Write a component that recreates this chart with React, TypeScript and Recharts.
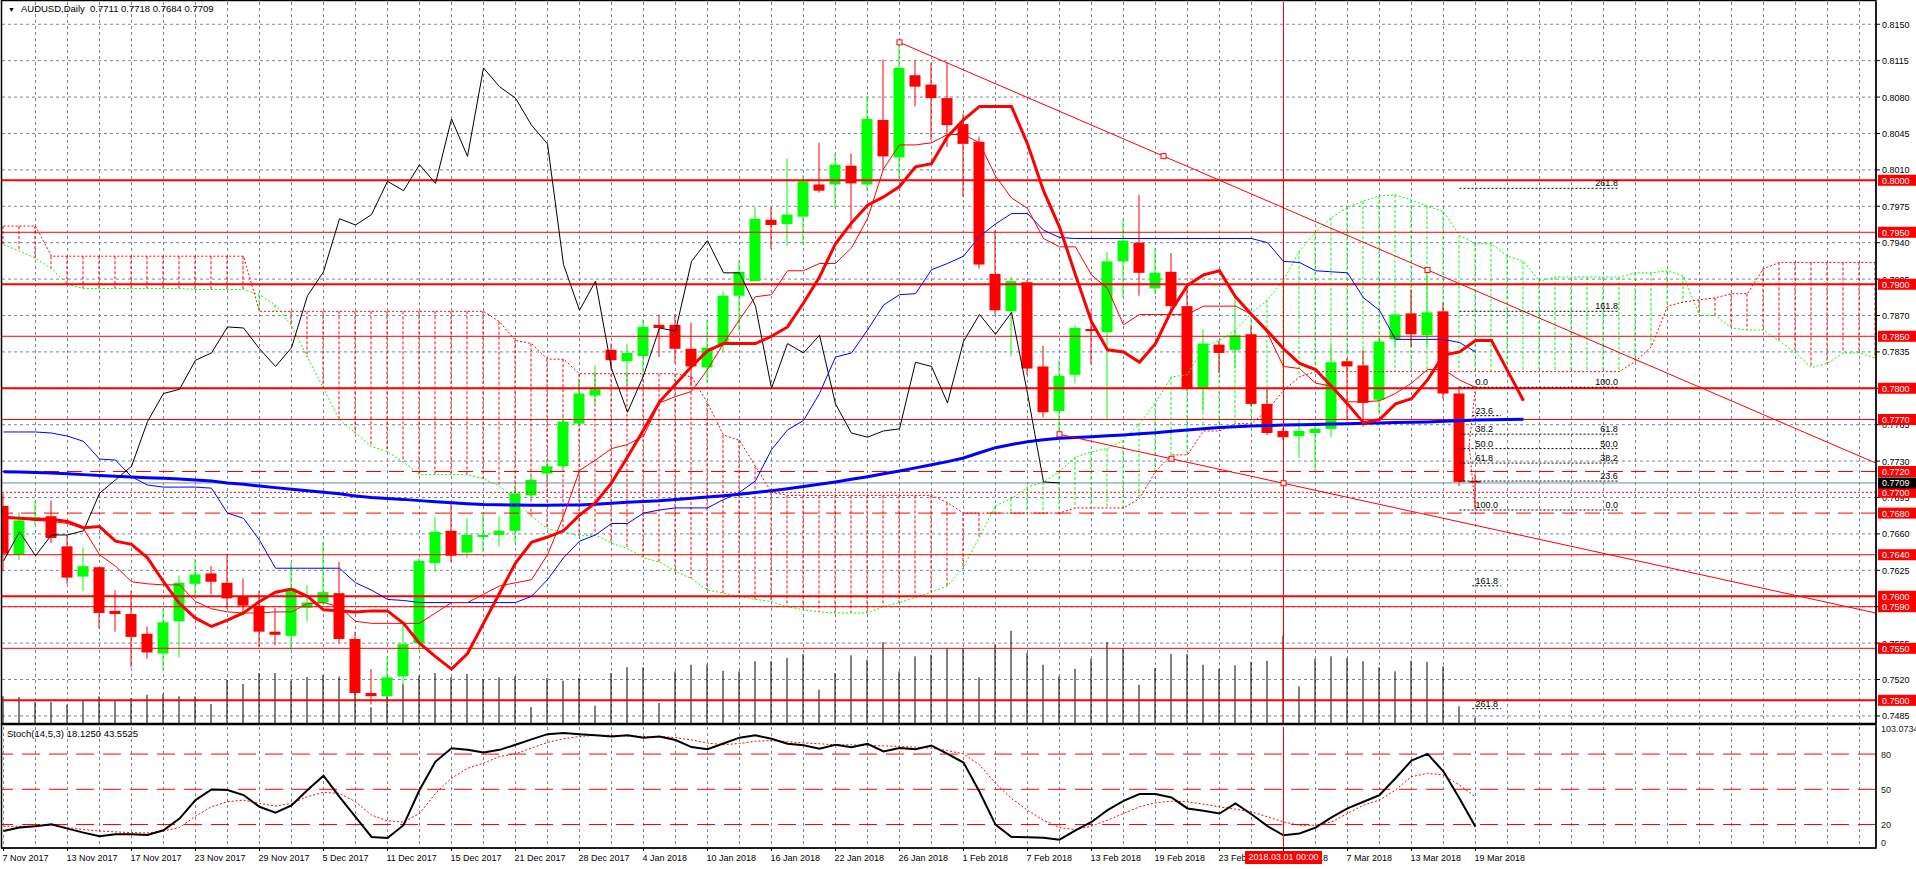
import React from 'react';
import {
  ComposedChart,
  Bar,
  Line,
  XAxis,
  YAxis,
  CartesianGrid,
  ReferenceLine,
  ReferenceDot
} from 'recharts';

const FONT = '"Liberation Sans", Arial, sans-serif';
const RED = '#ff0000';
const LIME = '#00ff00';
const GRID = '#778899';

// ---- data (bar index 0 = 7 Nov 2017, 92 = 19 Mar 2018) ----
const opens = [
  0.7687, 0.7640, 0.7674, 0.7677, 0.7648, 0.7619, 0.7628, 0.7586, 0.7583, 0.7564,
  0.7545, 0.7576, 0.7612, 0.7622, 0.7613, 0.7600, 0.7591, 0.7566, 0.7562, 0.7589,
  0.7594, 0.7603, 0.7559, 0.7507, 0.7504, 0.7523, 0.7555, 0.7632, 0.7663, 0.7642,
  0.7657, 0.7659, 0.7663, 0.7697, 0.7718, 0.7725, 0.7766, 0.7793, 0.7837, 0.7826,
  0.7831, 0.7861, 0.7861, 0.7838, 0.7820, 0.7842, 0.7889, 0.7903, 0.7962, 0.7958,
  0.7965, 0.7996, 0.7996, 0.8014, 0.7996, 0.8058, 0.8022, 0.8101, 0.8092, 0.8079,
  0.8054, 0.8037, 0.7910, 0.7874, 0.7902, 0.7821, 0.7778, 0.7813, 0.7857, 0.7854,
  0.7922, 0.7940, 0.7896, 0.7912, 0.7879, 0.7800, 0.7842, 0.7837, 0.7852, 0.7785,
  0.7759, 0.7754, 0.7757, 0.7761, 0.7826, 0.7822, 0.7789, 0.7847, 0.7872, 0.7851,
  0.7874, 0.7795, 0.7711
];
const highs = [
  0.7699, 0.7681, 0.7692, 0.7692, 0.7659, 0.7647, 0.7628, 0.7606, 0.7605, 0.7571,
  0.7588, 0.7620, 0.7636, 0.7629, 0.7641, 0.7617, 0.7605, 0.7589, 0.7632, 0.7611,
  0.7652, 0.7633, 0.7566, 0.7530, 0.7542, 0.7577, 0.7637, 0.7676, 0.7690, 0.7675,
  0.7680, 0.7677, 0.7705, 0.7716, 0.7731, 0.7774, 0.7808, 0.7822, 0.7843, 0.7843,
  0.7866, 0.7871, 0.7871, 0.7863, 0.7866, 0.7893, 0.7923, 0.7974, 0.7974, 0.8021,
  0.8005, 0.8036, 0.8026, 0.8026, 0.8081, 0.8116, 0.8133, 0.8115, 0.8113, 0.8113,
  0.8064, 0.8042, 0.7952, 0.7907, 0.7904, 0.7841, 0.7827, 0.7861, 0.7874, 0.7931,
  0.7963, 0.7986, 0.7935, 0.7930, 0.7899, 0.7857, 0.7845, 0.7888, 0.7860, 0.7800,
  0.7762, 0.7771, 0.7766, 0.7842, 0.7829, 0.7837, 0.7848, 0.7872, 0.7895, 0.7914,
  0.7882, 0.7802, 0.7718
];
const lows = [
  0.7624, 0.7635, 0.7668, 0.7651, 0.7612, 0.7605, 0.7569, 0.7566, 0.7532, 0.7540,
  0.7529, 0.7541, 0.7600, 0.7602, 0.7588, 0.7582, 0.7551, 0.7553, 0.7548, 0.7576,
  0.7592, 0.7555, 0.7505, 0.7496, 0.7503, 0.7515, 0.7548, 0.7624, 0.7633, 0.7637,
  0.7642, 0.7648, 0.7651, 0.7695, 0.7712, 0.7722, 0.7764, 0.7785, 0.7818, 0.7803,
  0.7815, 0.7830, 0.7824, 0.7802, 0.7805, 0.7835, 0.7855, 0.7903, 0.7934, 0.7937,
  0.7938, 0.7988, 0.7974, 0.7953, 0.7990, 0.8010, 0.8002, 0.8071, 0.8039, 0.8032,
  0.7984, 0.7915, 0.7871, 0.7831, 0.7813, 0.7772, 0.7756, 0.7805, 0.7823, 0.7770,
  0.7887, 0.7889, 0.7890, 0.7875, 0.7798, 0.7778, 0.7815, 0.7820, 0.7783, 0.7755,
  0.7750, 0.7733, 0.7720, 0.7753, 0.7769, 0.7763, 0.7775, 0.7840, 0.7840, 0.7840,
  0.7790, 0.7706, 0.7684
];
const closes = [
  0.7641, 0.7673, 0.7676, 0.7656, 0.7618, 0.7629, 0.7584, 0.7583, 0.7561, 0.7546,
  0.7575, 0.7613, 0.7621, 0.7614, 0.7598, 0.7591, 0.7566, 0.7563, 0.7607, 0.7594,
  0.7604, 0.7559, 0.7507, 0.7504, 0.7522, 0.7554, 0.7634, 0.7662, 0.7639, 0.7659,
  0.7659, 0.7663, 0.7699, 0.7712, 0.7725, 0.7768, 0.7795, 0.7799, 0.7827, 0.7834,
  0.7859, 0.7858, 0.7838, 0.7821, 0.7839, 0.7889, 0.7912, 0.7963, 0.7957, 0.7967,
  0.7999, 0.7990, 0.8015, 0.7997, 0.8059, 0.8023, 0.8108, 0.8090, 0.8079, 0.8053,
  0.8035, 0.7919, 0.7875, 0.7903, 0.7819, 0.7777, 0.7812, 0.7858, 0.7855, 0.7922,
  0.7942, 0.7911, 0.7911, 0.7879, 0.7800, 0.7843, 0.7834, 0.7851, 0.7785, 0.7757,
  0.7753, 0.7759, 0.7761, 0.7825, 0.7821, 0.7786, 0.7845, 0.7871, 0.7852, 0.7873,
  0.7795, 0.7710, 0.7709
];
const volumes = [
  53400, 52000, 42000, 42000, 36600, 43400, 53400, 43400, 50000, 56600,
  58000, 53400, 53400, 38000, 86000, 78000, 100000, 100000, 84600, 92000,
  96000, 93000, 96000, 31400, 73000, 77400, 94600, 100000, 92000, 98000,
  88000, 91400, 93400, 32000, 90000, 84600, 90000, 34600, 100000, 111400,
  111400, 40000, 103400, 116600, 116600, 104600, 103400, 123400, 123400, 130000,
  138000, 66600, 100000, 135400, 126600, 162000, 103400, 133400, 136600, 150000,
  150000, 91400, 156600, 184600, 140000, 116600, 93400, 108600, 128600, 162000,
  150000, 76600, 110000, 138000, 138000, 116600, 108600, 115400, 122000, 124600,
  175400, 73400, 128600, 133400, 130000, 123400, 111400, 103400, 124600, 122000,
  113400, 33400, 10000
];
// lagging span (black)
const chikou = [
  0.7634, 0.7662, 0.7639, 0.7659, 0.7659, 0.7663, 0.7699, 0.7712, 0.7725, 0.7768,
  0.7795, 0.7799, 0.7827, 0.7834, 0.7859, 0.7858, 0.7838, 0.7821, 0.7839, 0.7889,
  0.7912, 0.7963, 0.7957, 0.7967, 0.7999, 0.7990, 0.8015, 0.7997, 0.8059, 0.8023,
  0.8108, 0.8090, 0.8079, 0.8053, 0.8035, 0.7919, 0.7875, 0.7903, 0.7819, 0.7777,
  0.7812, 0.7858, 0.7855, 0.7922, 0.7942, 0.7911, 0.7911, 0.7879, 0.7800, 0.7843,
  0.7834, 0.7851, 0.7785, 0.7757, 0.7753, 0.7759, 0.7761, 0.7825, 0.7821, 0.7786,
  0.7845, 0.7871, 0.7852, 0.7873, 0.7795, 0.7710, 0.7709
];
// conversion line (thin red)
const tenkan = [
  0.7676, 0.7675, 0.7673, 0.7672, 0.7670, 0.7665, 0.7640, 0.7629, 0.7614, 0.7612,
  0.7611, 0.7611, 0.7595, 0.7588, 0.7585, 0.7584, 0.7584, 0.7585, 0.7585, 0.7593,
  0.7594, 0.7590, 0.7576, 0.7574, 0.7574, 0.7574, 0.7574, 0.7584, 0.7594, 0.7594,
  0.7602, 0.7610, 0.7613, 0.7616, 0.7640, 0.7677, 0.7721, 0.7731, 0.7742, 0.7746,
  0.7754, 0.7786, 0.7792, 0.7797, 0.7818, 0.7843, 0.7866, 0.7888, 0.7890, 0.7913,
  0.7913, 0.7920, 0.7920, 0.7935, 0.7963, 0.8011, 0.8034, 0.8034, 0.8036, 0.8044,
  0.8044, 0.8036, 0.8004, 0.7983, 0.7973, 0.7944, 0.7936, 0.7936, 0.7909, 0.7896,
  0.7861, 0.7871, 0.7871, 0.7871, 0.7871, 0.7879, 0.7879, 0.7879, 0.7871, 0.7853,
  0.7821, 0.7819, 0.7805, 0.7802, 0.7787, 0.7787, 0.7788, 0.7795, 0.7805, 0.7818,
  0.7818, 0.7808, 0.7801
];
// base line (thin blue)
const kijun = [
  0.7758, 0.7758, 0.7758, 0.7757, 0.7754, 0.7749, 0.7732, 0.7731, 0.7715, 0.7707,
  0.7705, 0.7705, 0.7705, 0.7704, 0.7680, 0.7675, 0.7654, 0.7627, 0.7627, 0.7627,
  0.7627, 0.7627, 0.7613, 0.7606, 0.7597, 0.7596, 0.7594, 0.7594, 0.7594, 0.7594,
  0.7594, 0.7594, 0.7594, 0.7600, 0.7616, 0.7637, 0.7653, 0.7659, 0.7670, 0.7670,
  0.7680, 0.7683, 0.7685, 0.7685, 0.7685, 0.7693, 0.7700, 0.7711, 0.7741, 0.7760,
  0.7769, 0.7795, 0.7830, 0.7834, 0.7856, 0.7880, 0.7890, 0.7891, 0.7914, 0.7920,
  0.7927, 0.7946, 0.7958, 0.7968, 0.7968, 0.7952, 0.7945, 0.7944, 0.7944, 0.7944,
  0.7944, 0.7944, 0.7944, 0.7944, 0.7944, 0.7944, 0.7944, 0.7944, 0.7944, 0.7940,
  0.7922, 0.7921, 0.7913, 0.7912, 0.7911, 0.7887, 0.7875, 0.7847, 0.7847, 0.7847,
  0.7847, 0.7844, 0.7835
];
// shifted moving averages (thick red / thick blue)
const maRed = [
  0.7676, 0.7675, 0.7674, 0.7674, 0.7672, 0.7666, 0.7667, 0.7653, 0.7650, 0.7637,
  0.7614, 0.7593, 0.7579, 0.7571, 0.7577, 0.7584, 0.7595, 0.7604, 0.7607, 0.7600,
  0.7587, 0.7586, 0.7585, 0.7586, 0.7586, 0.7574, 0.7555, 0.7542, 0.7530, 0.7545,
  0.7574, 0.7603, 0.7632, 0.7652, 0.7657, 0.7663, 0.7678, 0.7690, 0.7709, 0.7734,
  0.7760, 0.7787, 0.7804, 0.7821, 0.7836, 0.7843, 0.7843, 0.7843, 0.7850, 0.7859,
  0.7882, 0.7907, 0.7939, 0.7959, 0.7976, 0.7984, 0.7994, 0.8013, 0.8016, 0.8042,
  0.8058, 0.8071, 0.8071, 0.8071, 0.8035, 0.7990, 0.7955, 0.7909, 0.7864, 0.7837,
  0.7835, 0.7825, 0.7843, 0.7875, 0.7899, 0.7909, 0.7913, 0.7888, 0.7871, 0.7855,
  0.7838, 0.7824, 0.7818, 0.7802, 0.7785, 0.7767, 0.7770, 0.7785, 0.7790, 0.7808,
  0.7832, 0.7835, 0.7846, 0.7846, 0.7817, 0.7788
];
const maBlue = [
  0.77198, 0.77195, 0.77190, 0.77185, 0.77178, 0.77170, 0.77162, 0.77155, 0.77148, 0.77140,
  0.77135, 0.77128, 0.77118, 0.77108, 0.77090, 0.77078, 0.77060, 0.77045, 0.77030, 0.77015,
  0.77000, 0.76985, 0.76965, 0.76950, 0.76940, 0.76932, 0.76920, 0.76910, 0.76900, 0.76890,
  0.76882, 0.76880, 0.76878, 0.76876, 0.76876, 0.76877, 0.76878, 0.76885, 0.76895, 0.76905,
  0.76912, 0.76918, 0.76930, 0.76942, 0.76955, 0.76968, 0.76982, 0.76998, 0.77015, 0.77035,
  0.77055, 0.77078, 0.77100, 0.77125, 0.77150, 0.77178, 0.77205, 0.77235, 0.77265, 0.77295,
  0.77330, 0.77380, 0.77429, 0.77460, 0.77487, 0.77505, 0.77519, 0.77528, 0.77535, 0.77543,
  0.77551, 0.77562, 0.77573, 0.77586, 0.77599, 0.77612, 0.77624, 0.77631, 0.77637, 0.77642,
  0.77647, 0.77650, 0.77653, 0.77656, 0.77660, 0.77663, 0.77666, 0.77670, 0.77673, 0.77676,
  0.77682, 0.77688, 0.77695, 0.77698, 0.77700, 0.77702
];
// cloud spans (A green dotted, B red dotted), already shifted forward
const spanA = [
  0.7938, 0.7932, 0.7925, 0.7915, 0.7900, 0.7896, 0.7896, 0.7896, 0.7896, 0.7896,
  0.7896, 0.7896, 0.7895, 0.7895, 0.7895, 0.7895, 0.7890, 0.7880, 0.7860, 0.7830,
  0.7800, 0.7770, 0.7757, 0.7744, 0.7739, 0.7729, 0.7717, 0.7717, 0.7717, 0.7717,
  0.7713, 0.7706, 0.7693, 0.7677, 0.7665, 0.7662, 0.7658, 0.7659, 0.7651, 0.7646,
  0.7637, 0.7633, 0.7624, 0.7617, 0.7606, 0.7603, 0.7600, 0.7597, 0.7595, 0.7590,
  0.7587, 0.7585, 0.7584, 0.7584, 0.7584, 0.7590, 0.7594, 0.7599, 0.7604, 0.7610,
  0.7628, 0.7657, 0.7687, 0.7694, 0.7705, 0.7710, 0.7720, 0.7734, 0.7739, 0.7742,
  0.7750, 0.7766, 0.7786, 0.7811, 0.7813, 0.7840, 0.7846, 0.7856, 0.7872, 0.7885,
  0.7904, 0.7932, 0.7950, 0.7964, 0.7974, 0.7980, 0.7985, 0.7986, 0.7981, 0.7975,
  0.7970, 0.7947, 0.7939, 0.7939, 0.7927, 0.7922, 0.7903, 0.7907, 0.7907, 0.7907,
  0.7907, 0.7907, 0.7911, 0.7911, 0.7913, 0.7908, 0.7870, 0.7870, 0.7858, 0.7856,
  0.7856, 0.7845, 0.7834, 0.7820, 0.7824, 0.7834, 0.7834, 0.7829
];
const spanB = [
  0.7956, 0.7956, 0.7956, 0.7927, 0.7927, 0.7927, 0.7927, 0.7927, 0.7927, 0.7927,
  0.7927, 0.7927, 0.7927, 0.7927, 0.7927, 0.7927, 0.7874, 0.7874, 0.7874, 0.7874,
  0.7874, 0.7874, 0.7874, 0.7874, 0.7874, 0.7874, 0.7874, 0.7874, 0.7874, 0.7874,
  0.7874, 0.7864, 0.7846, 0.7843, 0.7828, 0.7828, 0.7814, 0.7814, 0.7814, 0.7814,
  0.7814, 0.7814, 0.7814, 0.7811, 0.7786, 0.7755, 0.7750, 0.7725, 0.7700, 0.7697,
  0.7697, 0.7697, 0.7697, 0.7697, 0.7697, 0.7697, 0.7697, 0.7697, 0.7697, 0.7690,
  0.7680, 0.7680, 0.7680, 0.7680, 0.7680, 0.7680, 0.7680, 0.7685, 0.7685, 0.7685,
  0.7685, 0.7694, 0.7720, 0.7736, 0.7736, 0.7759, 0.7759, 0.7766, 0.7766, 0.7779,
  0.7798, 0.7811, 0.7816, 0.7816, 0.7816, 0.7816, 0.7816, 0.7816, 0.7816, 0.7816,
  0.7816, 0.7816, 0.7816, 0.7816, 0.7816, 0.7816, 0.7816, 0.7816, 0.7816, 0.7816,
  0.7816, 0.7816, 0.7826, 0.7840, 0.7879, 0.7883, 0.7885, 0.7887, 0.7891, 0.7891,
  0.7915, 0.7921, 0.7921, 0.7921, 0.7921, 0.7921, 0.7921, 0.7921
];
// Stochastic (14,5,3)
const stochK = [
  14.5, 17.4, 18.5, 20.2, 16.5, 13.1, 10.0, 11.7, 11.7, 11.1,
  15.1, 25.1, 40.8, 49.9, 49.4, 45.1, 35.1, 30.0, 36.3, 49.4,
  61.6, 43.6, 26.5, 9.4, 8.5, 19.4, 49.4, 73.6, 85.0, 83.6,
  81.3, 83.6, 87.9, 92.5, 97.0, 98.0, 97.0, 96.0, 95.0, 96.0,
  94.0, 95.0, 92.0, 86.0, 84.2, 89.0, 94.0, 96.0, 93.0, 88.8,
  87.6, 84.5, 87.9, 85.9, 88.8, 82.2, 85.1, 84.2, 87.3, 80.2,
  72.8, 47.9, 19.9, 9.4, 9.1, 8.8, 7.1, 15.1, 22.2, 32.2,
  40.2, 45.9, 45.9, 43.1, 33.7, 31.7, 29.4, 38.0, 28.8, 18.6,
  10.8, 12.3, 17.4, 26.0, 33.7, 39.4, 45.1, 59.4, 74.5, 80.2,
  65.1, 42.2, 18.1
];
const stochD = [
  18.5, 18.5, 18.8, 19.4, 17.4, 15.7, 14.5, 13.7, 13.1, 12.8,
  14.5, 17.4, 27.1, 35.1, 39.4, 40.8, 38.0, 35.7, 38.0, 43.7,
  47.4, 46.5, 39.4, 28.0, 23.1, 22.2, 29.4, 46.5, 59.4, 67.9,
  72.2, 77.9, 80.2, 85.1, 89.9, 93.0, 95.0, 96.0, 96.0, 95.5,
  95.0, 95.0, 94.0, 92.0, 89.4, 88.0, 89.0, 91.0, 91.5, 90.5,
  89.5, 88.8, 87.9, 87.9, 87.3, 87.0, 86.5, 85.9, 85.0, 83.0,
  80.2, 70.8, 55.1, 42.2, 32.2, 23.7, 17.4, 15.7, 18.6, 23.7,
  29.4, 35.1, 38.5, 39.9, 39.4, 37.4, 35.1, 33.1, 30.8, 26.6,
  22.2, 19.4, 19.4, 22.2, 29.4, 36.5, 40.8, 49.4, 60.8, 63.6,
  62.2, 53.6, 43.6
];

const dateTicks = [0, 4, 8, 12, 16, 20, 24, 28, 32, 36, 40, 44, 48, 52, 56, 60, 64, 68, 72, 76, 80, 84, 88, 92];
const dateLabels = [
  '7 Nov 2017', '13 Nov 2017', '17 Nov 2017', '23 Nov 2017', '29 Nov 2017', '5 Dec 2017',
  '11 Dec 2017', '15 Dec 2017', '21 Dec 2017', '28 Dec 2017', '4 Jan 2018', '10 Jan 2018',
  '16 Jan 2018', '22 Jan 2018', '26 Jan 2018', '1 Feb 2018', '7 Feb 2018', '13 Feb 2018',
  '19 Feb 2018', '23 Feb 2018', '1 Mar 2018', '7 Mar 2018', '13 Mar 2018', '19 Mar 2018'
];
const priceTicks = [
  0.8150, 0.8115, 0.8080, 0.8045, 0.8010, 0.7975, 0.7940, 0.7905, 0.7870, 0.7835,
  0.7800, 0.7765, 0.7730, 0.7695, 0.7660, 0.7625, 0.7590, 0.7555, 0.7520, 0.7485
];
// horizontal levels drawn on the chart
const thickLevels = [0.8000, 0.7900, 0.7800, 0.7600, 0.7500];
const thinLevels = [0.7950, 0.7850, 0.7770, 0.7640, 0.7590, 0.7550];
const dashLevels = [0.7720, 0.7680];
const dotLevels = [0.7700];
const bidPrice = 0.7709;
const levelTags = [0.8000, 0.7950, 0.7900, 0.7850, 0.7800, 0.7770, 0.7720, 0.7700, 0.7680, 0.7640, 0.7600, 0.7590, 0.7550, 0.7500];

// trend lines: start bar/price, second anchor and value at the right edge
const upperTrend = { i0: 56, p0: 0.81326, i1: 89, p1: 0.79138, pEnd: 0.7728 };
const lowerTrend = { i0: 66, p0: 0.77558, i1: 80, p1: 0.77087, pEnd: 0.75839 };

// fibonacci levels (price, left text, right text)
const fibLevels = [0.7801, 0.77559, 0.7742, 0.77281, 0.77108, 0.7683, 0.7874, 0.79923];
const fibLeftText = ['0.0', '38.2', '50.0', '61.8', '', '100.0', '', ''];
const fibRightText = ['100.0', '61.8', '50.0', '38.2', '23.6', '0.0', '161.8', '261.8'];
const fibShort = [0.77737, 0.76101, 0.7492];
const fibShortText = ['23.6', '161.8', '261.8'];
const fibSwing = { hi: 0.7801, lo: 0.7683 };

const stochTicks = [0, 20, 50, 80, 103.0734];
const stochLevels = [80, 50, 20];

const N = 118;
const rows = Array.from({ length: N }, (_, i) => ({
  i,
  o: opens[i], h: highs[i], l: lows[i], c: closes[i],
  vol: volumes[i],
  chi: chikou[i], ten: tenkan[i], kij: kijun[i],
  maR: maRed[i], maB: maBlue[i],
  sa: spanA[i], sb: spanB[i],
  k: stochK[i], d: stochD[i]
}));

const X_DOMAIN: [number, number] = [-0.09375, 117.03125];
const evenTicks = Array.from({ length: 59 }, (_, k) => k * 2);

const Candle = (props: any) => {
  const { x, y, width, height, payload } = props;
  if (payload.h === undefined || height == null) return null;
  const span = payload.h - payload.l || 1e-9;
  const k = height / span;
  const yo = y + (payload.h - payload.o) * k;
  const yc = y + (payload.h - payload.c) * k;
  const col = payload.c >= payload.o ? LIME : RED;
  const cx = x + width / 2;
  const top = Math.min(yo, yc);
  return (
    <g>
      <line x1={cx} x2={cx} y1={y} y2={y + height} stroke={col} strokeWidth={1} />
      <rect x={x} y={top} width={width} height={Math.max(1, Math.abs(yo - yc))} fill={col} />
    </g>
  );
};

const Hatch = (props: any) => {
  const { x, y, width, height, payload } = props;
  if (payload.sa === undefined || height == null) return null;
  const cx = x + width / 2;
  const col = payload.sb > payload.sa ? RED : LIME;
  return <line x1={cx} x2={cx} y1={y} y2={y + height} stroke={col} strokeWidth={1} strokeDasharray="3 2" />;
};

const VolumeStick = (props: any) => {
  const { x, y, width, height } = props;
  if (height == null || height <= 0) return null;
  const cx = x + width / 2;
  return <line x1={cx} x2={cx} y1={y} y2={y + height} stroke="#000" strokeWidth={1} />;
};

const PriceTick = (props: any) => {
  const { x, y, payload, index } = props;
  const v = payload.value;
  const txt = v.toFixed(4);
  const isPlain = index < priceTicks.length;
  if (!isPlain && v === bidPrice) {
    return (
      <g>
        <rect x={x - 4} y={y - 5.5} width={38} height={11} fill="#000" />
        <text x={x} y={y + 3.5} fill="#fff" fontSize={9} fontFamily={FONT}>{txt}</text>
      </g>
    );
  }
  if (!isPlain) {
    return (
      <g>
        <rect x={x - 4} y={y - 5.5} width={38} height={11} fill={RED} />
        <text x={x} y={y + 3.5} fill="#fff" fontSize={9} fontFamily={FONT}>{txt}</text>
      </g>
    );
  }
  // plain tick labels fully covered by a level tag are not visible in the terminal
  const covered = levelTags.includes(v);
  return (
    <g>
      <line x1={x - 6} x2={x - 2} y1={y} y2={y} stroke="#000" />
      {covered ? null : <text x={x} y={y + 3.5} fill="#000" fontSize={9} fontFamily={FONT}>{txt}</text>}
    </g>
  );
};

const StochTick = (props: any) => {
  const { x, y, payload } = props;
  const v = payload.value;
  const dy = v === 0 ? -2 : v > 100 ? 5 : 3.5;
  return (
    <text x={x} y={y + dy} fill="#1a1a1a" fontSize={9} fontFamily={FONT}>
      {v > 100 ? v.toFixed(4) : String(v)}
    </text>
  );
};

const DateTick = (props: any) => {
  const { x, y, payload } = props;
  const idx = dateTicks.indexOf(payload.value);
  return (
    <g>
      <line x1={x} x2={x} y1={y} y2={y + 3} stroke="#000" />
      <text x={x - 1} y={y + 12.5} fill="#000" fontSize={9} fontFamily={FONT}>{dateLabels[idx]}</text>
    </g>
  );
};

const square = (p: any) => (
  <rect x={p.cx - 2.5} y={p.cy - 2.5} width={5} height={5} fill="#fff" stroke={RED} strokeWidth={1} />
);

const fibText = (text: string, anchor: 'start' | 'end') => (p: any) => (
  <text x={p.cx} y={p.cy - 2} textAnchor={anchor} fontSize={9} fontFamily={FONT} fill="#000">{text}</text>
);

const MainPanel = () => (
  <ComposedChart width={1916} height={725} data={rows} margin={{ top: 2, right: 0, left: 2, bottom: 2 }}>
    <XAxis dataKey="i" type="number" domain={X_DOMAIN} hide allowDataOverflow />
    <XAxis xAxisId="xh" dataKey="i" type="number" domain={X_DOMAIN} hide allowDataOverflow />
    <XAxis xAxisId="xv" dataKey="i" type="number" domain={X_DOMAIN} hide allowDataOverflow />
    <XAxis xAxisId="xc" dataKey="i" type="number" domain={X_DOMAIN} hide allowDataOverflow />
    <YAxis
      orientation="right"
      type="number"
      domain={[0.74782, 0.81714]}
      allowDataOverflow
      width={40}
      ticks={[...priceTicks, ...levelTags, bidPrice]}
      interval={0}
      tickSize={4}
      tickMargin={2}
      tickLine={false}
      axisLine={{ stroke: '#000' }}
      tick={PriceTick}
    />
    <YAxis yAxisId="v" hide domain={[0, 1442000]} />
    <CartesianGrid stroke={GRID} strokeDasharray="3 3" horizontalValues={priceTicks} verticalValues={evenTicks} />

    <Bar xAxisId="xh" dataKey={(r: any) => (r.sa === undefined ? undefined : [Math.min(r.sa, r.sb), Math.max(r.sa, r.sb)])} barSize={11} shape={Hatch} isAnimationActive={false} />
    <Line dataKey="sa" stroke={LIME} strokeWidth={1} strokeDasharray="2 2" dot={false} isAnimationActive={false} />
    <Line dataKey="sb" stroke={RED} strokeWidth={1} strokeDasharray="2 2" dot={false} isAnimationActive={false} />

    <Bar xAxisId="xv" yAxisId="v" dataKey="vol" barSize={11} shape={VolumeStick} isAnimationActive={false} />

    {thickLevels.map((p) => <ReferenceLine key={'tk' + p} y={p} stroke={RED} strokeWidth={2} />)}
    {thinLevels.map((p) => <ReferenceLine key={'tn' + p} y={p} stroke={RED} strokeWidth={1} />)}
    {dashLevels.map((p) => <ReferenceLine key={'ds' + p} y={p} stroke={RED} strokeWidth={1} strokeDasharray="15 8" />)}
    {dotLevels.map((p) => <ReferenceLine key={'dt' + p} y={p} stroke={RED} strokeWidth={1} strokeDasharray="2 2" />)}
    <ReferenceLine y={bidPrice} stroke={GRID} strokeWidth={1} />

    <Bar xAxisId="xc" dataKey={(r: any) => (r.h === undefined ? undefined : [r.l, r.h])} barSize={11} shape={Candle} isAnimationActive={false} />

    <Line dataKey="maB" stroke="#0000ff" strokeWidth={3} dot={false} isAnimationActive={false} />
    <Line dataKey="chi" stroke="#000" strokeWidth={1} dot={false} isAnimationActive={false} />
    <Line dataKey="kij" stroke="#0000ff" strokeWidth={1} dot={false} isAnimationActive={false} />
    <Line dataKey="ten" stroke={RED} strokeWidth={1} dot={false} isAnimationActive={false} />
    <Line dataKey="maR" stroke={RED} strokeWidth={3} dot={false} isAnimationActive={false} />

    <ReferenceLine segment={[{ x: upperTrend.i0, y: upperTrend.p0 }, { x: X_DOMAIN[1], y: upperTrend.pEnd }]} stroke={RED} strokeWidth={1} ifOverflow="visible" />
    <ReferenceLine segment={[{ x: lowerTrend.i0, y: lowerTrend.p0 }, { x: X_DOMAIN[1], y: lowerTrend.pEnd }]} stroke={RED} strokeWidth={1} ifOverflow="visible" />
    <ReferenceDot x={upperTrend.i0} y={upperTrend.p0} r={3} shape={square} />
    <ReferenceDot x={(upperTrend.i0 + upperTrend.i1) / 2} y={(upperTrend.p0 + upperTrend.p1) / 2} r={3} shape={square} />
    <ReferenceDot x={upperTrend.i1} y={upperTrend.p1} r={3} shape={square} />
    <ReferenceDot x={lowerTrend.i0} y={lowerTrend.p0} r={3} shape={square} />
    <ReferenceDot x={(lowerTrend.i0 + lowerTrend.i1) / 2} y={(lowerTrend.p0 + lowerTrend.p1) / 2} r={3} shape={square} />
    <ReferenceDot x={lowerTrend.i1} y={lowerTrend.p1} r={3} shape={square} />

    {fibLevels.map((p, k) => (
      <ReferenceLine key={'fb' + k} segment={[{ x: 91, y: p }, { x: 100.9, y: p }]} stroke="#000" strokeDasharray="2 2" ifOverflow="visible" />
    ))}
    {fibShort.map((p, k) => (
      <ReferenceLine key={'fs' + k} segment={[{ x: 91.8, y: p }, { x: 93.6, y: p }]} stroke="#000" strokeDasharray="2 2" ifOverflow="visible" />
    ))}
    <ReferenceLine segment={[{ x: 92, y: fibSwing.hi }, { x: 91.6, y: 0.7745 }]} stroke={RED} strokeDasharray="2 2" ifOverflow="visible" />
    <ReferenceLine segment={[{ x: 91.6, y: 0.7745 }, { x: 92, y: fibSwing.lo }]} stroke={RED} strokeDasharray="2 2" ifOverflow="visible" />
    {fibLevels.map((p, k) =>
      fibLeftText[k] ? <ReferenceDot key={'fl' + k} x={92} y={p} r={1} shape={fibText(fibLeftText[k], 'start')} /> : null
    )}
    {fibLevels.map((p, k) => (
      <ReferenceDot key={'fr' + k} x={100.9} y={p} r={1} shape={fibText(fibRightText[k], 'end')} />
    ))}
    {fibShort.map((p, k) => (
      <ReferenceDot key={'fsl' + k} x={92} y={p} r={1} shape={fibText(fibShortText[k], 'start')} />
    ))}

    <ReferenceLine x={80} stroke={RED} strokeWidth={1} />
  </ComposedChart>
);

const StochPanel = () => (
  <ComposedChart width={1916} height={146} data={rows} margin={{ top: 4, right: 0, left: 2, bottom: 2 }}>
    <XAxis
      dataKey="i"
      type="number"
      domain={X_DOMAIN}
      allowDataOverflow
      ticks={dateTicks}
      interval={0}
      height={19}
      tickSize={0}
      tickMargin={0}
      tickLine={false}
      axisLine={{ stroke: '#000' }}
      tick={DateTick}
    />
    <YAxis
      orientation="right"
      type="number"
      domain={[0, 103.0734]}
      allowDataOverflow
      width={40}
      ticks={stochTicks}
      interval={0}
      tickSize={4}
      tickMargin={1}
      tickLine={false}
      axisLine={{ stroke: '#000' }}
      tick={StochTick}
    />
    <CartesianGrid stroke={GRID} strokeDasharray="3 3" horizontal={false} verticalValues={evenTicks} />
    {stochLevels.map((v) => <ReferenceLine key={'sl' + v} y={v} stroke={RED} strokeWidth={1} strokeDasharray="18 9" />)}
    <Line dataKey="d" stroke={RED} strokeWidth={1} strokeDasharray="2 2" dot={false} isAnimationActive={false} />
    <Line dataKey="k" stroke="#000" strokeWidth={2} dot={false} isAnimationActive={false} />
    <ReferenceLine x={80} stroke={RED} strokeWidth={1} />
  </ComposedChart>
);

export default function App() {
  return (
    <div style={{ position: 'absolute', left: 0, top: 0, width: 1916, height: 869, background: '#fff', fontFamily: FONT, overflow: 'hidden' }}>
      <div style={{ position: 'absolute', left: 0, top: 0 }}>
        <MainPanel />
      </div>
      <div style={{ position: 'absolute', left: 0, top: 723 }}>
        <StochPanel />
      </div>
      <svg width={1916} height={869} style={{ position: 'absolute', left: 0, top: 0, pointerEvents: 'none' }}>
        <rect x={1.5} y={0.5} width={1874.5} height={723} fill="none" stroke="#000" strokeWidth={1.5} />
        <rect x={1.5} y={724.5} width={1874.5} height={123.5} fill="none" stroke="#000" strokeWidth={1.5} />
      </svg>
      <div style={{ position: 'absolute', left: 8, top: 3, fontSize: 9.5, color: '#000', whiteSpace: 'pre', lineHeight: '12px' }}>
        <span style={{ fontSize: 7, marginRight: 6 }}>▼</span>AUDUSD,Daily  0.7711 0.7718 0.7684 0.7709
      </div>
      <div style={{ position: 'absolute', left: 7, top: 728, fontSize: 9.5, color: '#000', whiteSpace: 'pre', lineHeight: '12px' }}>
        Stoch(14,5,3) 18.1250 43.5525
      </div>
      <div style={{ position: 'absolute', left: 1245, top: 851, width: 77, height: 13, background: RED, color: '#fff', fontSize: 9, lineHeight: '13px', textAlign: 'center' }}>
        2018.03.01 00:00
      </div>
    </div>
  );
}
